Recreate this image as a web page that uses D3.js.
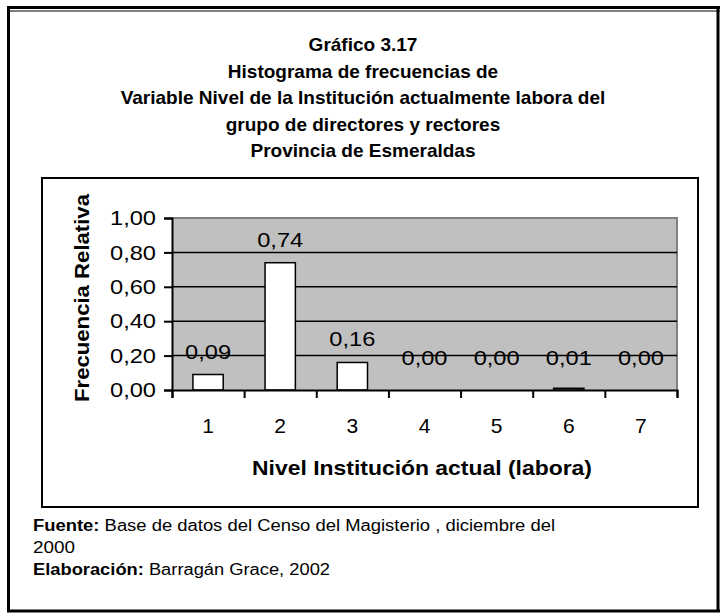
<!DOCTYPE html>
<html>
<head>
<meta charset="utf-8">
<script src="https://cdn.jsdelivr.net/npm/d3@7"></script>
<style>
  body { margin: 0; background: #fff; }
  text { font-family: "Liberation Sans", Arial, sans-serif; }
</style>
</head>
<body>
<div id="chart"></div>
<script>
const categories = ['1', '2', '3', '4', '5', '6', '7'];
const values = [0.09, 0.74, 0.16, 0.0, 0.0, 0.01, 0.0];
const valueLabels = ['0,09', '0,74', '0,16', '0,00', '0,00', '0,01', '0,00'];
const yTicks = [0, 0.2, 0.4, 0.6, 0.8, 1.0];
const titleLines = [
  'Gráfico 3.17',
  'Histograma de frecuencias de',
  'Variable Nivel de la Institución actualmente labora del',
  'grupo de directores y rectores',
  'Provincia de Esmeraldas'
];

const width = 725;
const height = 614;
const plot = { left: 172, right: 677, top: 218, bottom: 390 };

const svg = d3.select('#chart').append('svg')
  .attr('width', width)
  .attr('height', height);

svg.append('rect').attr('width', width).attr('height', height).attr('fill', '#fff');

// outer page frame
const frame = svg.append('g').attr('fill', 'none').attr('stroke', '#000');
frame.append('line').attr('x1', 7).attr('x2', 720).attr('y1', 7.5).attr('y2', 7.5).attr('stroke-width', 3);
frame.append('line').attr('x1', 10).attr('x2', 720).attr('y1', 11).attr('y2', 11).attr('stroke-width', 1);
frame.append('line').attr('x1', 8.5).attr('x2', 8.5).attr('y1', 6).attr('y2', 612).attr('stroke-width', 3);
frame.append('line').attr('x1', 718).attr('x2', 718).attr('y1', 6).attr('y2', 612).attr('stroke-width', 3);
frame.append('line').attr('x1', 7).attr('x2', 720).attr('y1', 611).attr('y2', 611).attr('stroke-width', 3);

// title
svg.append('g')
  .selectAll('text')
  .data(titleLines)
  .enter().append('text')
  .attr('x', 363)
  .attr('y', (d, i) => 51 + i * 26.5)
  .attr('text-anchor', 'middle')
  .attr('font-weight', 'bold')
  .attr('font-size', 19)
  .text(d => d);

// chart frame
svg.append('rect')
  .attr('x', 42).attr('y', 178)
  .attr('width', 656).attr('height', 329)
  .attr('fill', 'none')
  .attr('stroke', '#000')
  .attr('stroke-width', 2);

const x = d3.scaleBand()
  .domain(categories)
  .range([plot.left, plot.right])
  .paddingInner(0.58)
  .paddingOuter(0.29);

const xEdges = d3.scaleLinear()
  .domain([0, categories.length])
  .range([plot.left, plot.right]);

const y = d3.scaleLinear()
  .domain([0, 1])
  .range([plot.bottom, plot.top]);

// plot area
svg.append('rect')
  .attr('x', plot.left).attr('y', plot.top)
  .attr('width', plot.right - plot.left).attr('height', plot.bottom - plot.top)
  .attr('fill', '#c0c0c0');

svg.append('path')
  .attr('d', `M${plot.left},${plot.top}H${plot.right}V${plot.bottom}`)
  .attr('fill', 'none')
  .attr('stroke', '#808080')
  .attr('stroke-width', 2);

// gridlines
svg.append('g')
  .selectAll('line')
  .data(yTicks.filter(t => t > 0 && t < 1))
  .enter().append('line')
  .attr('x1', plot.left).attr('x2', plot.right)
  .attr('y1', d => y(d)).attr('y2', d => y(d))
  .attr('stroke', '#000')
  .attr('stroke-width', 1.5);

// bars
svg.append('g')
  .selectAll('rect')
  .data(values)
  .enter().append('rect')
  .attr('x', (d, i) => x(categories[i]))
  .attr('y', d => y(d))
  .attr('width', x.bandwidth())
  .attr('height', d => y(0) - y(d))
  .attr('fill', '#fff')
  .attr('stroke', '#000')
  .attr('stroke-width', 1.5);

// value labels
svg.append('g')
  .selectAll('text')
  .data(values)
  .enter().append('text')
  .attr('x', (d, i) => x(categories[i]) + x.bandwidth() / 2)
  .attr('y', d => Math.min(y(d) - 16, y(0) - 25))
  .attr('text-anchor', 'middle')
  .attr('font-size', 21)
  .attr('textLength', 46)
  .attr('lengthAdjust', 'spacingAndGlyphs')
  .text((d, i) => valueLabels[i]);

// y axis
const yAxis = svg.append('g')
  .attr('transform', `translate(${plot.left},0)`)
  .call(d3.axisLeft(y).tickValues(yTicks).tickSize(8).tickPadding(8)
    .tickFormat(d => d3.format('.2f')(d).replace('.', ',')));
yAxis.selectAll('path, line').attr('stroke', '#000').attr('stroke-width', 2);
yAxis.selectAll('text').attr('font-size', 21).attr('fill', '#000')
  .attr('textLength', 46).attr('lengthAdjust', 'spacingAndGlyphs')
  .attr('font-family', '"Liberation Sans", Arial, sans-serif');

// x axis
const xAxis = svg.append('g')
  .attr('transform', `translate(0,${plot.bottom})`)
  .call(d3.axisBottom(xEdges).ticks(categories.length).tickSize(8).tickFormat(''));
xAxis.selectAll('path, line').attr('stroke', '#000').attr('stroke-width', 2);

svg.append('g')
  .selectAll('text')
  .data(categories)
  .enter().append('text')
  .attr('x', d => x(d) + x.bandwidth() / 2)
  .attr('y', 433)
  .attr('text-anchor', 'middle')
  .attr('font-size', 21)
  .text(d => d);

// axis titles
svg.append('text')
  .attr('transform', 'translate(89,298) rotate(-90)')
  .attr('text-anchor', 'middle')
  .attr('font-weight', 'bold')
  .attr('font-size', 21)
  .attr('textLength', 208)
  .attr('lengthAdjust', 'spacingAndGlyphs')
  .text('Frecuencia Relativa');

svg.append('text')
  .attr('x', 422).attr('y', 475)
  .attr('text-anchor', 'middle')
  .attr('font-weight', 'bold')
  .attr('font-size', 21)
  .attr('textLength', 340)
  .attr('lengthAdjust', 'spacingAndGlyphs')
  .text('Nivel Institución actual (labora)');

// source notes
const notes = svg.append('g').attr('font-size', 16);
const n1 = notes.append('text').attr('x', 33).attr('y', 531)
  .attr('textLength', 522).attr('lengthAdjust', 'spacingAndGlyphs');
n1.append('tspan').attr('font-weight', 'bold').text('Fuente:');
n1.append('tspan').text(' Base de datos del Censo del Magisterio , diciembre del');
notes.append('text').attr('x', 33).attr('y', 553)
  .attr('textLength', 42).attr('lengthAdjust', 'spacingAndGlyphs').text('2000');
const n3 = notes.append('text').attr('x', 33).attr('y', 575)
  .attr('textLength', 297).attr('lengthAdjust', 'spacingAndGlyphs');
n3.append('tspan').attr('font-weight', 'bold').text('Elaboración:');
n3.append('tspan').text(' Barragán Grace, 2002');
</script>
</body>
</html>
